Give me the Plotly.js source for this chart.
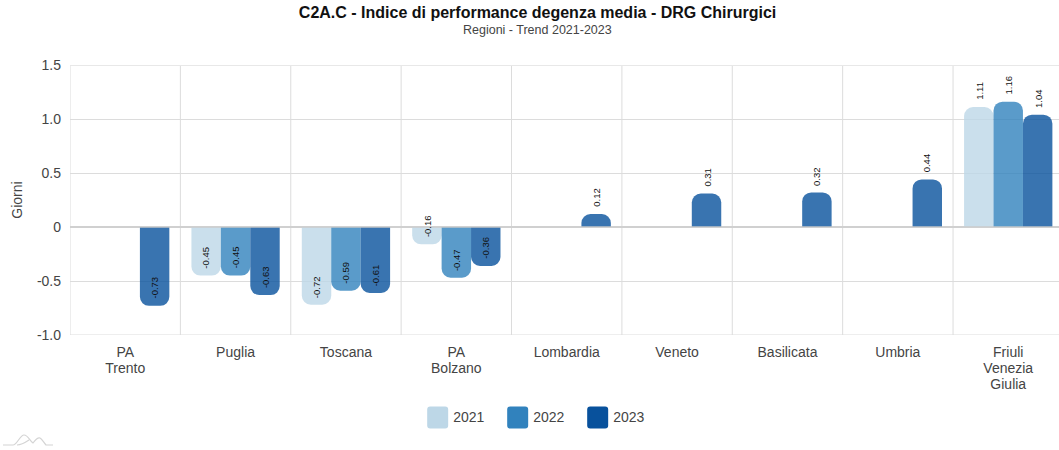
<!DOCTYPE html>
<html>
<head>
<meta charset="utf-8">
<script src="https://cdn.plot.ly/plotly-3.0.1.min.js"></script>
<style>
html,body{margin:0;padding:0;background:#fff;overflow:hidden}
#chart{position:absolute;left:0;top:0;width:1059px;height:450px}
#logo{position:absolute;left:3px;top:430px;width:50px;height:18px}
</style>
</head>
<body>
<div id="chart"></div>
<svg id="logo" viewBox="0 0 50 18"><path d="M0 15H10C14 15 17 5 21 5C25 5 27 11 30 13C33 9 35 7 37 8C39 9 41 13 43 15H50M14 15C18 15 23 12 26 10" fill="none" stroke="#d4d4d4" stroke-width="1.2"/></svg>
<script>
const categories = ["PA<br>Trento","Puglia","Toscana","PA<br>Bolzano","Lombardia","Veneto","Basilicata","Umbria","Friuli<br>Venezia<br>Giulia"];
const years = ["2021","2022","2023"];
const values2021 = [null,-0.45,-0.72,-0.16,null,null,null,null,1.11];
const values2022 = [null,-0.45,-0.59,-0.47,null,null,null,null,1.16];
const values2023 = [-0.73,-0.63,-0.61,-0.36,0.12,0.31,0.32,0.44,1.04];
const colors = ["#bdd7e7","#3182bd","#08519c"];
const yTickVals = [-1,-0.5,0,0.5,1,1.5];
const yTickText = ["-1.0","-0.5","0","0.5","1.0","1.5"];
const FONT = "Liberation Sans, Arial, sans-serif";

const series = [values2021,values2022,values2023];
const traces = series.map((v,i)=>({
  type:"bar", name:years[i], x:categories, y:v,
  marker:{color:colors[i],opacity:0.8,line:{width:0}},
  hoverinfo:"x+y"
}));

const BAR_PX = 29.5;
const annotations = [];
series.forEach((v,i)=>v.forEach((val,c)=>{
  if(val===null) return;
  annotations.push({
    x:categories[c], y:val, xref:"x", yref:"y", showarrow:false,
    text:val.toFixed(2), textangle:-90,
    font:{family:FONT,size:9.5,color:"#111"},
    xanchor:"center", yanchor:"bottom",
    xshift:(i-1)*BAR_PX,
    yshift:6,
    borderpad:0
  });
}));
annotations.push({xref:"paper",yref:"paper",x:0.473,y:1.13,yanchor:"middle",xanchor:"center",showarrow:false,
  text:"Regioni - Trend 2021-2023",font:{family:FONT,size:12.5,color:"#444"}});

const layout = {
  width:1059,height:450,
  paper_bgcolor:"#fff",plot_bgcolor:"#fff",
  margin:{l:69.5,r:0,t:65,b:115,pad:0},
  font:{family:FONT,size:14,color:"#444"},
  bargap:0.2,bargroupgap:0,barmode:"group",barcornerradius:9,
  title:{text:"<b>C2A.C - Indice di performance degenza media - DRG Chirurgici</b>",
    font:{family:FONT,size:16,color:"#111"},xref:"container",x:0.5076,xanchor:"center",yref:"container",y:0.973,yanchor:"middle"},
  xaxis:{type:"category",range:[-0.5,8.46],tickmode:"array",tickvals:categories,ticktext:categories,
    showgrid:false,showline:false,zeroline:false,ticks:"",ticklabelstandoff:7,tickfont:{family:FONT,size:14,color:"#444"},fixedrange:true},
  yaxis:{range:[-1,1.5],tickmode:"array",tickvals:yTickVals,ticktext:yTickText,
    showgrid:true,gridcolor:"#dcdcdc",gridwidth:1,zeroline:true,zerolinecolor:"#d8d8d8",zerolinewidth:2,
    showline:false,ticks:"",ticklabelstandoff:8,tickfont:{family:FONT,size:14,color:"#444"},
    title:{text:"Giorni",font:{family:FONT,size:14,color:"#444"},standoff:10},fixedrange:true},
  showlegend:true,
  legend:{orientation:"h",x:0.347,xanchor:"left",y:-0.2425,yanchor:"top",entrywidth:35,entrywidthmode:"pixels",
    font:{family:FONT,size:14,color:"#444"},
    traceorder:"normal",itemclick:false,itemdoubleclick:false,bgcolor:"rgba(0,0,0,0)"},
  annotations:annotations,
  shapes:[
   ...categories.map((c,i)=>({type:"line",xref:"x",yref:"paper",x0:i-0.5,x1:i-0.5,y0:0,y1:1,line:{color:"#dcdcdc",width:1},layer:"below"})),
   {type:"line",xref:"paper",yref:"y",x0:0,x1:1,y0:1.5,y1:1.5,line:{color:"#e8e8e8",width:2},layer:"below"},
   {type:"line",xref:"paper",yref:"y",x0:0,x1:1,y0:-1,y1:-1,line:{color:"#dcdcdc",width:1},layer:"below"},
   {type:"line",xref:"paper",yref:"y",x0:0,x1:1,y0:0,y1:0,line:{color:"rgba(205,205,205,0.7)",width:2},layer:"above"}
  ]
};

Plotly.newPlot("chart",traces,layout,{displayModeBar:false}).then(gd=>{
  gd.querySelectorAll(".legend .traces").forEach((t,i)=>{
    t.querySelectorAll(".legendpoints path").forEach(p=>{
      p.setAttribute("d","M-3,-9.5h15a3,3 0 0 1 3,3v16a3,3 0 0 1 -3,3h-15a3,3 0 0 1 -3,-3v-16a3,3 0 0 1 3,-3z");
      p.style.opacity=1; p.style.fillOpacity=1; p.style.fill=colors[i]; p.style.stroke="none";
    });
  });
  gd.querySelectorAll(".xtick text tspan.line").forEach(ts=>{
    const n=parseFloat(ts.getAttribute("dy"));
    if(n) ts.setAttribute("dy",(n/1.3*1.14)+"em");
  });
});
</script>
</body>
</html>
